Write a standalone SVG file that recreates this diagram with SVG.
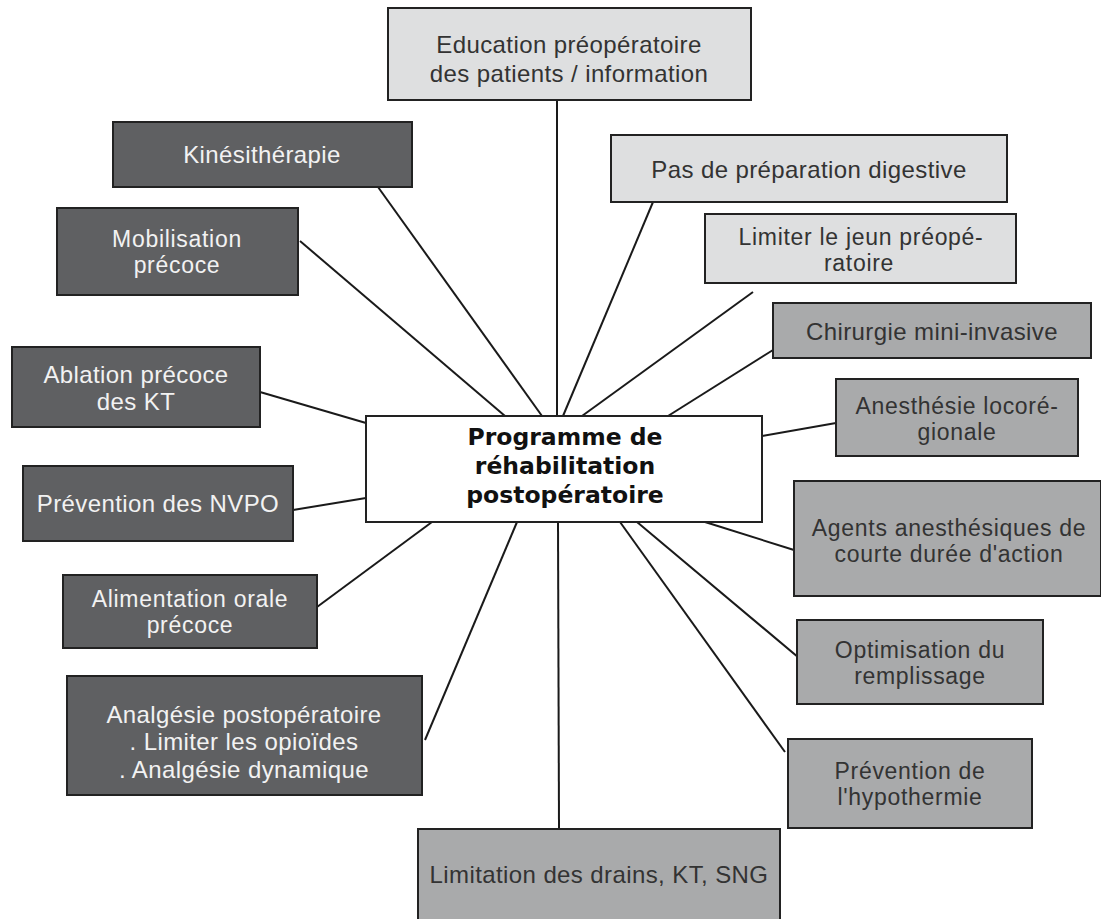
<svg xmlns="http://www.w3.org/2000/svg" width="1101" height="919" viewBox="0 0 1101 919">
<style>
.box{stroke:#222;stroke-width:2}
.dark{fill:#5f6062}
.light{fill:#dedfe0}
.mid{fill:#a9aaab}
.t{font-family:"Liberation Sans",Arial,sans-serif;font-size:24px;letter-spacing:0.4px;text-anchor:middle}
.s{font-size:23px;letter-spacing:0.7px}
.tw{fill:#f2f2f2}
.tb{fill:#333}
.center{font-family:"DejaVu Sans",sans-serif;font-weight:bold;font-size:23.5px;text-anchor:middle;fill:#111}
.conn line{stroke:#1a1a1a;stroke-width:2}
</style>
<rect width="1101" height="919" fill="#fff"/>
<g id="connectors" class="conn">
<line x1="557" y1="100" x2="557" y2="416"/>
<line x1="378" y1="187" x2="542" y2="416"/>
<line x1="300" y1="241" x2="505" y2="416"/>
<line x1="653" y1="202" x2="563" y2="416"/>
<line x1="753" y1="292" x2="582" y2="416"/>
<line x1="773" y1="350" x2="668" y2="416"/>
<line x1="836" y1="423" x2="762" y2="436"/>
<line x1="794" y1="550" x2="705" y2="522"/>
<line x1="805" y1="663" x2="637" y2="522"/>
<line x1="785" y1="752" x2="620" y2="522"/>
<line x1="559" y1="829" x2="558" y2="522"/>
<line x1="425" y1="740" x2="517" y2="522"/>
<line x1="317" y1="607" x2="432" y2="522"/>
<line x1="293" y1="510" x2="366" y2="498"/>
<line x1="260" y1="392" x2="366" y2="423"/>
</g>
<g id="center">
<rect class="box" x="366" y="416" width="396" height="106" fill="#fff"/>
<text class="center" x="565" y="445">Programme de</text>
<text class="center" x="565" y="474">réhabilitation</text>
<text class="center" x="565" y="503">postopératoire</text>
</g>
<g id="education">
<rect class="box light" x="388" y="8" width="363" height="92"/>
<text class="t tb" x="569" y="53">Education préopératoire</text>
<text class="t tb" x="569" y="82">des patients / information</text>
</g>
<g id="kinesitherapie">
<rect class="box dark" x="113" y="122" width="299" height="65"/>
<text class="t tw" x="262" y="163">Kinésithérapie</text>
</g>
<g id="mobilisation">
<rect class="box dark" x="57" y="208" width="241" height="87"/>
<text class="t s tw" x="177" y="247">Mobilisation</text>
<text class="t s tw" x="177" y="273">précoce</text>
</g>
<g id="ablation">
<rect class="box dark" x="12" y="347" width="248" height="80"/>
<text class="t tw" x="136" y="383">Ablation précoce</text>
<text class="t tw" x="136" y="410">des KT</text>
</g>
<g id="nvpo">
<rect class="box dark" x="23" y="466" width="270" height="75"/>
<text class="t tw" x="158" y="512">Prévention des NVPO</text>
</g>
<g id="alimentation">
<rect class="box dark" x="63" y="575" width="254" height="73"/>
<text class="t s tw" x="190" y="607">Alimentation orale</text>
<text class="t s tw" x="190" y="633">précoce</text>
</g>
<g id="analgesie">
<rect class="box dark" x="67" y="676" width="355" height="119"/>
<text class="t tw" x="244" y="723">Analgésie postopératoire</text>
<text class="t tw" x="244" y="750">. Limiter les opioïdes</text>
<text class="t tw" x="244" y="778">. Analgésie dynamique</text>
</g>
<g id="preparation">
<rect class="box light" x="611" y="135" width="396" height="67"/>
<text class="t tb" x="809" y="178">Pas de préparation digestive</text>
</g>
<g id="jeun">
<rect class="box light" x="705" y="214" width="311" height="69"/>
<text class="t s tb" x="861" y="245">Limiter le jeun préopé-</text>
<text class="t s tb" x="859" y="271">ratoire</text>
</g>
<g id="chirurgie">
<rect class="box mid" x="773" y="303" width="318" height="55"/>
<text class="t tb" x="932" y="340">Chirurgie mini-invasive</text>
</g>
<g id="anesthesie">
<rect class="box mid" x="836" y="379" width="242" height="77"/>
<text class="t s tb" x="957" y="414">Anesthésie locoré-</text>
<text class="t s tb" x="957" y="440">gionale</text>
</g>
<g id="agents">
<rect class="box mid" x="794" y="481" width="307" height="115"/>
<text class="t s tb" x="949" y="536">Agents anesthésiques de</text>
<text class="t s tb" x="949" y="562">courte durée d'action</text>
</g>
<g id="optimisation">
<rect class="box mid" x="797" y="620" width="246" height="84"/>
<text class="t s tb" x="920" y="658">Optimisation du</text>
<text class="t s tb" x="920" y="684">remplissage</text>
</g>
<g id="hypothermie">
<rect class="box mid" x="788" y="739" width="244" height="89"/>
<text class="t s tb" x="910" y="779">Prévention de</text>
<text class="t s tb" x="910" y="805">l'hypothermie</text>
</g>
<g id="limitation">
<rect class="box mid" x="418" y="829" width="362" height="95"/>
<text class="t tb" x="599" y="883">Limitation des drains, KT, SNG</text>
</g>
</svg>
